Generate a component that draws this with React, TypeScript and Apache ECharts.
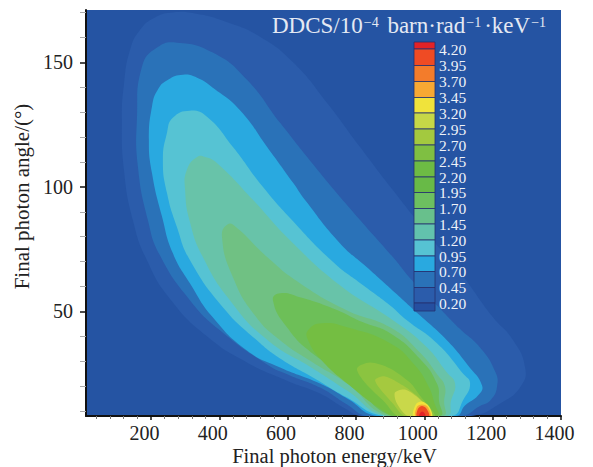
import React, { useEffect, useRef } from "react";
import * as echarts from "echarts";

const xMajor = [200, 400, 600, 800, 1000, 1200, 1400];
const xMinor = [40, 80, 120, 160, 240, 280, 320, 360, 440, 480, 520, 560, 640, 680, 720, 760, 840, 880, 920, 960, 1040, 1080, 1120, 1160, 1240, 1280, 1320, 1360];
const yMajor = [50, 100, 150];
const yMinor = [10, 20, 30, 40, 60, 70, 80, 90, 110, 120, 130, 140, 160, 170];

const legendLabels = ["4.20", "3.95", "3.70", "3.45", "3.20", "2.95", "2.70", "2.45", "2.20", "1.95", "1.70", "1.45", "1.20", "0.95", "0.70", "0.45", "0.20"];
const legendColors = ["#e32227", "#ef4b24", "#f37c2b", "#f7a833", "#f0e33b", "#c6d747", "#a3c93f", "#7fbf42", "#6dbb44", "#68ba47", "#6dc060", "#68c08c", "#62c2ad", "#56c3d3", "#29a9e0", "#2a72b8", "#2b5cab", "#254fa0"];

const c045 = [[818,8],[768,11],[695,17],[598,22.2],[481,29.5],[364,40],[256,55],[188,70.6],[147,86.7],[121,106.8],[115,126.9],[121,141],[139,155],[168,163],[212,168],[264,170],[329,169.6],[417,166.4],[519,160.3],[616,150],[715,133.8],[812,116],[908,98.7],[1008,81.4],[1104,65.7],[1201,47.6],[1260,38.4],[1295,27.5],[1283,20],[1227,13.4],[1134,8]];
const c070 = [[835,8],[774,12.6],[695,19.4],[607,24.3],[540,28.7],[402,42.4],[314,54.5],[226,72.6],[191,86.7],[162,108],[159,127],[174,148.3],[218,155.9],[276,157.9],[381,153.9],[481,143],[578,125.7],[695,105.6],[812,86.7],[908,71.8],[964,62.5],[1037,52.4],[1104,43],[1163,35.5],[1207,26],[1213,20],[1195,14.5],[1163,12],[1107,8]];
const c095 = [[862,8],[774,15],[695,21],[578,27.5],[481,34.3],[381,47.6],[314,61.3],[264,73.4],[232,88.3],[203,105.6],[194,118.9],[203,132.2],[220,139],[250,143],[294,145],[335,143.8],[381,139.8],[460,130.9],[540,116],[616,101.6],[651,94.7],[753,77.4],[832,67.7],[900,59.3],[987,48.4],[1066,38.4],[1128,28.3],[1169,20.2],[1157,16.2],[1119,12.2],[1093,8]];
const c120 = [[879,8],[774,15.4],[674,23.5],[578,31.1],[510,38.4],[411,51.6],[314,70.6],[276,83.9],[247,97.5],[235,110.8],[247,121.7],[264,127.7],[314,130.6],[364,128.1],[440,116],[528,99.9],[607,87.5],[733,69.8],[821,60.5],[900,52.4],[949,46.4],[1037,37.2],[1113,25.1],[1134,21],[1113,14.2],[1081,8]];
const c145 = [[885,8],[774,18.2],[674,27.1],[542,38.4],[431,54.5],[352,71.8],[314,86],[300,98.7],[305,106.8],[335,112],[358,112],[393,109.6],[499,94.7],[607,78.6],[753,60.5],[900,47.2],[1002,36.3],[1066,25.5],[1090,21],[1078,14],[1066,8]];
const c170 = [[893,8],[774,21],[674,29.5],[578,38.4],[504,48.4],[440,63.7],[408,79.8],[425,85],[452,83.5],[540,71.8],[636,61.3],[774,50.4],[900,43.6],[987,33.5],[1040,24.3],[1060,20],[1058,14],[1055,8]];
const c195 = [[903,8],[768,25],[674,33],[598,43.6],[557,54.5],[578,57.3],[636,55.7],[733,51.2],[821,45.6],[900,41.2],[987,31],[1037,21],[1043,14],[1046,8]];
const c220 = [[915,8],[870,11],[782,20.2],[700,30.3],[660,38.4],[660,42.4],[700,45.2],[774,43.6],[900,37.2],[973,28.3],[1011,20.2],[1030,13],[1037,8]];
const c245 = [[923,8],[885,13.4],[826,21.4],[803,27.1],[841,29.5],[900,27.1],[958,21.4],[987,16.2],[1011,12.2],[1030,8]];
const c270 = [[943,8],[908,13],[856,22.2],[885,23.9],[938,20.2],[987,15],[1017,10],[1025,8]];
const c295 = [[952,8],[920,13],[914,17.4],[943,18.6],[981,15.4],[1011,11],[1022,8]];
const c320 = [[968,8],[976,12.8],[993,13.8],[1013,12],[1022,8]];
const c345 = [[974,8],[979,11.8],[993,12.6],[1009,11.8],[1018,8]];
const c395 = [[978,8],[982,11],[993,12],[1006,11],[1014,8]];
const c420 = [[985,8],[988,9.2],[994,9.8],[1000,9.2],[1003,8]];

const contours = [c045, c070, c095, c120, c145, c170, c195, c220, c245, c270, c295, c320, c345, c395, c420];
const contourColors = ["#2b5cab", "#2a72b8", "#29a9e0", "#56c3d3", "#68c3a9", "#70c183", "#6dbf58", "#74be42", "#8bc440", "#a5c93f", "#c9d84a", "#f0e33b", "#f7a833", "#ef4b24", "#e32227"];

const FONT = "'Liberation Serif', serif";

export default function App() {
  const ref = useRef<HTMLDivElement>(null);
  useEffect(() => {
    const chart = echarts.init(ref.current!, undefined, { renderer: "svg" });
    const barLeft = 414;
    const barWidth = 21;
    const edges = [42, 49, 65.5, 81.5, 97.5, 113, 129, 145, 161, 177, 192.5, 208.5, 224, 240, 256, 271.5, 287.5, 303, 311];
    const legendGraphics: any[] = [];
    legendColors.forEach((c, i) => {
      legendGraphics.push({
        type: "rect",
        shape: { x: barLeft, y: edges[i], width: barWidth, height: edges[i + 1] - edges[i] },
        style: { fill: c, stroke: "#24306e", lineWidth: 0.8 },
        z: 20,
      });
    });
    legendLabels.forEach((t, i) => {
      legendGraphics.push({
        type: "text",
        x: 439,
        y: edges[i + 1],
        style: { text: t, fill: "#eef2f8", font: `15.5px ${FONT}`, verticalAlign: "middle" },
        z: 20,
      });
    });
    legendGraphics.push({
      type: "text",
      x: 272,
      y: 11,
      style: {
        text: "{m|DDCS/10}{s|−4}{m| barn·rad}{s|−1}{m|·keV}{s|−1}",
        fill: "#e4e9f3",
        font: `23px ${FONT}`,
        rich: {
          m: { fontFamily: FONT, fontSize: 23, fill: "#e4e9f3", verticalAlign: "bottom", lineHeight: 26 },
          s: { fontFamily: FONT, fontSize: 14, fill: "#e4e9f3", verticalAlign: "top", lineHeight: 26, padding: [4, 3, 0, 1] },
        },
      },
      z: 20,
    });

    const axisBase = { type: "value" as const, splitLine: { show: false } };
    chart.setOption({
      animation: false,
      backgroundColor: "#ffffff",
      grid: { left: 86, right: 32, top: 10, bottom: 51, show: true, backgroundColor: "#2554a3", borderWidth: 0, outerBoundsMode: "none", containLabel: false },
      xAxis: [
        {
          ...axisBase,
          min: 10,
          max: 1400,
          name: "Final photon energy/keV",
          nameLocation: "middle",
          nameGap: 29,
          nameMoveOverlap: false,
          nameTextStyle: { fontFamily: FONT, fontSize: 20.5, color: "#222", padding: [0, 0, 0, 22] },
          axisLine: { onZero: false, lineStyle: { color: "#111", width: 2 } },
          axisTick: { customValues: xMajor, length: 4, lineStyle: { color: "#111", width: 1.5 } },
          axisLabel: { customValues: xMajor, formatter: (v: number) => String(v), fontFamily: FONT, fontSize: 20, color: "#222", margin: 7, hideOverlap: false, padding: [0, 13, 0, 0] },
        },
        {
          ...axisBase,
          min: 10,
          max: 1400,
          position: "bottom",
          axisLine: { show: false },
          axisTick: { customValues: xMinor, length: 3, lineStyle: { color: "#777", width: 1 } },
          axisLabel: { show: false },
        },
      ],
      yAxis: [
        {
          ...axisBase,
          min: 8,
          max: 171,
          name: "Final photon angle/(°)",
          nameLocation: "middle",
          nameGap: 50,
          nameTextStyle: { fontFamily: FONT, fontSize: 21, color: "#222", padding: [0, 0, 0, 33] },
          axisLine: { onZero: false, lineStyle: { color: "#111", width: 2 } },
          axisTick: { customValues: yMajor, length: 6, lineStyle: { color: "#111", width: 1.5 } },
          axisLabel: { customValues: yMajor, formatter: (v: number) => String(v), fontFamily: FONT, fontSize: 20, color: "#222", margin: 13 },
        },
        {
          ...axisBase,
          min: 8,
          max: 171,
          position: "left",
          axisLine: { show: false },
          axisTick: { customValues: yMinor, length: 6, lineStyle: { color: "#aaa", width: 1 } },
          axisLabel: { show: false },
        },
      ],
      series: [
        {
          type: "custom",
          coordinateSystem: "cartesian2d",
          clip: true,
          silent: true,
          encode: { x: 1, y: 2 },
          data: contours.map((c, i) => [i, c[0][0], c[0][1]]),
          renderItem: (_p: any, api: any) => {
            const i = api.value(0);
            return {
              type: "polygon",
              shape: { points: contours[i].map((pt) => api.coord(pt)), smooth: i < 8 ? 0.5 : 0.3 },
              style: { fill: contourColors[i] },
            };
          },
        },
      ],
      graphic: legendGraphics,
    });
    return () => chart.dispose();
  }, []);
  return <div ref={ref} style={{ position: "absolute", left: 0, top: 0, width: 593, height: 467 }} />;
}
